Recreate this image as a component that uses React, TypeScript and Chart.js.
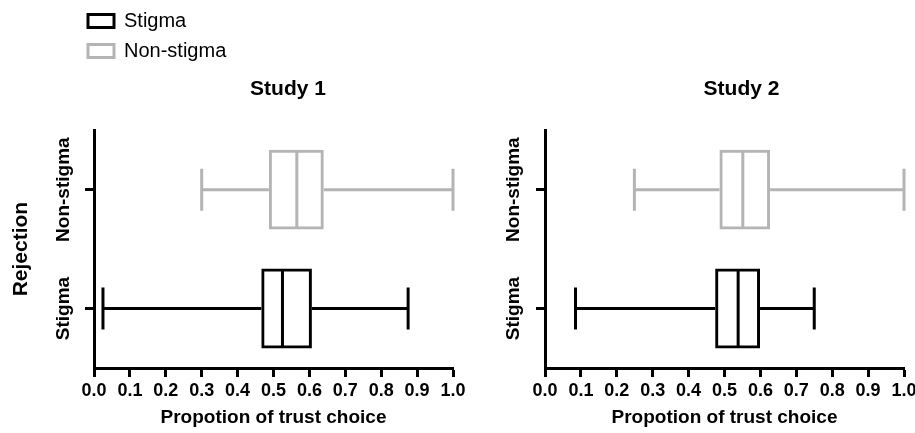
import React, { useEffect, useRef } from 'react';
import { Chart, registerables } from 'chart.js';

Chart.register(...registerables);

const FONT = '"Liberation Sans", Arial, Helvetica, sans-serif';
Chart.defaults.font.family = FONT;
Chart.defaults.color = '#000000';

// ---- data ----
const categories = ['Non-stigma', 'Stigma'];
const seriesNames = ['Stigma', 'Non-stigma'];
const seriesColors = ['#000000', '#b4b4b4'];
// five-number summaries: [min, q1, median, q3, max]
const study1Stigma = [0.025, 0.466, 0.525, 0.607, 0.875];
const study1NonStigma = [0.3, 0.487, 0.565, 0.64, 1.0];
const study2Stigma = [0.085, 0.474, 0.538, 0.599, 0.75];
const study2NonStigma = [0.249, 0.486, 0.551, 0.627, 1.0];
const xTickLabels = ['0.0', '0.1', '0.2', '0.3', '0.4', '0.5', '0.6', '0.7', '0.8', '0.9', '1.0'];
const panelTitles = ['Study 1', 'Study 2'];
const xAxisTitle = 'Propotion of trust choice';
const yAxisTitle = 'Rejection';

function boxDataset(name: string, color: string, stats: number[]) {
  const row = categories.indexOf(name);
  return {
    label: name,
    data: categories.map((_, i) => (i === row ? [stats[1], stats[3]] : null)),
    stats,
    row,
    backgroundColor: 'rgba(255,255,255,0)',
    borderColor: color,
    borderWidth: 3,
    borderSkipped: false,
    grouped: false,
    barPercentage: 0.672,
    categoryPercentage: 1,
    xAxisID: 'x',
    yAxisID: 'y',
  };
}

const whiskerPlugin = {
  id: 'boxWhiskers',
  afterDatasetsDraw(chart: any, _args: any, opts: any) {
    const { ctx } = chart;
    const xs = chart.scales.x;
    const px = (v: number) => xs.getPixelForValue(v);
    chart.data.datasets.forEach((ds: any, i: number) => {
      const meta = chart.getDatasetMeta(i);
      const el = meta.data[ds.row];
      if (!el) return;
      const { y, height } = el.getProps(['y', 'height'], true);
      const half = height / 2;
      const [mn, q1, md, q3, mx] = ds.stats;
      ctx.save();
      ctx.strokeStyle = ds.borderColor;
      ctx.lineWidth = opts.lineWidth;
      ctx.lineCap = 'butt';
      ctx.beginPath();
      ctx.moveTo(px(mn), y);
      ctx.lineTo(px(q1), y);
      ctx.moveTo(px(q3), y);
      ctx.lineTo(px(mx), y);
      ctx.moveTo(px(mn), y - opts.capHalf);
      ctx.lineTo(px(mn), y + opts.capHalf);
      ctx.moveTo(px(mx), y - opts.capHalf);
      ctx.lineTo(px(mx), y + opts.capHalf);
      ctx.moveTo(px(md), y - half + 1.5);
      ctx.lineTo(px(md), y + half - 1.5);
      ctx.stroke();
      ctx.restore();
    });
  },
};

function makePanel(
  canvas: HTMLCanvasElement,
  title: string,
  stigma: number[],
  nonStigma: number[],
  showYTitle: boolean,
  yAxisWidth: number,
  rightGap: number,
  yLabelOffset: number,
  widest: number
) {
  return new Chart(canvas, {
    type: 'bar',
    data: {
      labels: categories,
      datasets: [
        boxDataset('Non-stigma', seriesColors[1], nonStigma),
        boxDataset('Stigma', seriesColors[0], stigma),
      ] as any,
    },
    options: {
      indexAxis: 'y',
      responsive: false,
      animation: false,
      layout: { padding: 0 },
      plugins: {
        legend: { display: false },
        tooltip: { enabled: false },
        title: {
          display: true,
          text: title,
          color: '#000',
          font: { size: 21, weight: 'bold' },
          padding: { top: 77, bottom: 28 },
        },
        boxWhiskers: { lineWidth: 3, capHalf: 21 },
      } as any,
      scales: {
        x: {
          type: 'linear',
          position: 'bottom',
          min: 0,
          max: 1,
          ticks: {
            stepSize: 0.1,
            autoSkip: false,
            maxRotation: 0,
            padding: 3,
            color: '#000',
            font: { size: 18, weight: 'bold' },
            callback: (v: any, i: number) => xTickLabels[i] ?? Number(v).toFixed(1),
          },
          grid: {
            display: true,
            drawOnChartArea: false,
            drawTicks: true,
            tickLength: 9,
            tickWidth: 3,
            tickColor: '#000',
          },
          border: { display: true, color: '#000', width: 3 },
          title: {
            display: true,
            text: xAxisTitle,
            color: '#000',
            font: { size: 19, weight: 'bold' },
            padding: { top: 3, bottom: 4 },
          },
          afterFit: (s: any) => {
            s.height = 65;
          },
        },
        y: {
          type: 'category',
          position: 'left',
          offset: true,
          grid: {
            display: true,
            offset: false,
            drawOnChartArea: false,
            drawTicks: true,
            tickLength: 9,
            tickWidth: 3,
            tickColor: '#000',
          },
          border: { display: true, color: '#000', width: 3 },
          ticks: {
            autoSkip: false,
            minRotation: 90,
            maxRotation: 90,
            crossAlign: 'center',
            padding: yLabelOffset - 9 - widest / 2,
            color: '#000',
            font: { size: 19, weight: 'bold' },
          },
          title: {
            display: showYTitle,
            text: yAxisTitle,
            color: '#000',
            font: { size: 21, weight: 'bold' },
            padding: { top: 9, bottom: 0 },
          },
          afterFit: (s: any) => {
            s.width = yAxisWidth;
          },
        },
        gap: {
          type: 'linear',
          position: 'right',
          display: true,
          grid: { display: false },
          border: { display: false },
          ticks: { display: false },
          afterFit: (s: any) => {
            s.width = rightGap;
          },
        },
      } as any,
    },
    plugins: [whiskerPlugin],
  });
}

export default function App() {
  const c1 = useRef<HTMLCanvasElement>(null);
  const c2 = useRef<HTMLCanvasElement>(null);
  const cl = useRef<HTMLCanvasElement>(null);

  useEffect(() => {
    const mctx = document.createElement('canvas').getContext('2d')!;
    mctx.font = `bold 19px ${FONT}`;
    const widest = Math.max(...categories.map((c) => mctx.measureText(c).width));

    const ch1 = makePanel(c1.current!, panelTitles[0], study1Stigma, study1NonStigma, true, 94, 123, 30, widest);
    const ch2 = makePanel(c2.current!, panelTitles[1], study2Stigma, study2NonStigma, false, 85, 119, 31.5, widest);

    const legendChart = new Chart(cl.current!, {
      type: 'bar',
      data: {
        labels: [],
        datasets: seriesNames.map((n, i) => ({
          label: n,
          data: [],
          backgroundColor: 'rgba(255,255,255,0)',
          borderColor: seriesColors[i],
          borderWidth: 3,
        })),
      },
      options: {
        responsive: false,
        animation: false,
        layout: { padding: { left: 78, top: 1 } },
        scales: { x: { display: false }, y: { display: false } },
        plugins: {
          tooltip: { enabled: false },
          legend: {
            display: true,
            position: 'left',
            align: 'start',
            labels: {
              boxWidth: 26,
              boxHeight: 13,
              padding: 10,
              color: '#000',
              font: { size: 20 },
              generateLabels: (chart: any) =>
                chart.data.datasets.map((ds: any, i: number) => ({
                  text: ds.label,
                  fillStyle: 'rgba(255,255,255,0)',
                  strokeStyle: ds.borderColor,
                  lineWidth: 3,
                  hidden: false,
                  datasetIndex: i,
                  fontColor: '#000',
                })),
            },
          },
        },
      } as any,
    });

    return () => {
      ch1.destroy();
      ch2.destroy();
      legendChart.destroy();
    };
  }, []);

  return (
    <div
      style={{
        position: 'fixed',
        left: 0,
        top: 0,
        width: 915,
        height: 433,
        overflow: 'hidden',
        background: '#ffffff',
      }}
    >
      <canvas ref={c1} width={576} height={433} style={{ position: 'absolute', left: 0, top: 0 }} />
      <canvas ref={c2} width={563} height={433} style={{ position: 'absolute', left: 460, top: 0 }} />
      <canvas ref={cl} width={400} height={80} style={{ position: 'absolute', left: 0, top: 0 }} />
    </div>
  );
}
